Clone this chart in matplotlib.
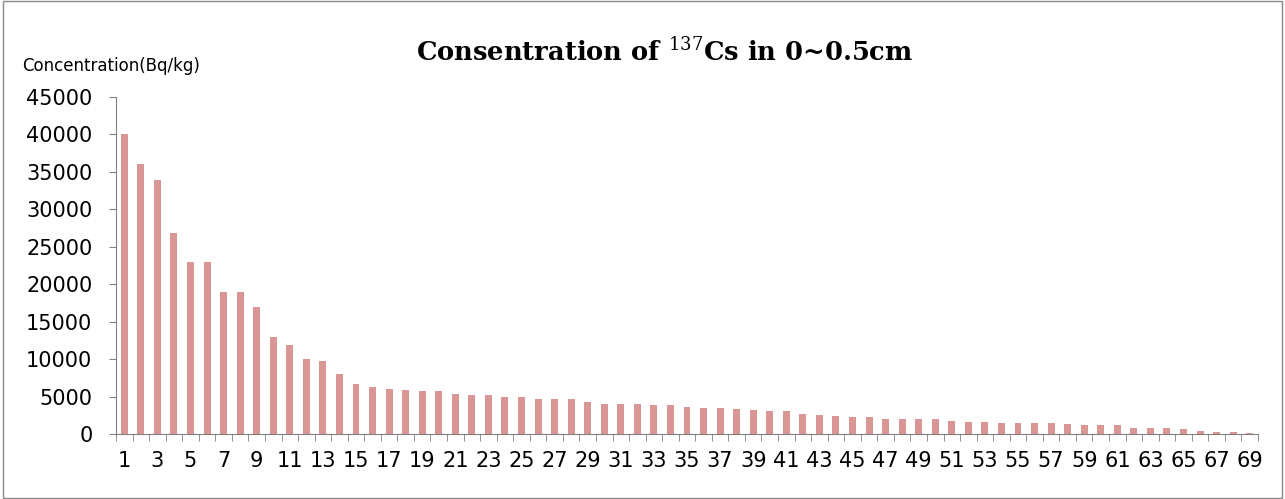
import matplotlib.pyplot as plt
import numpy as np

plt.rcParams["mathtext.fontset"] = "dejavuserif"

samples = list(range(1, 70))
conc = [40000, 36000, 33900, 26900, 22950, 22950, 18930, 18930, 16920, 12900,
        11920, 9955, 9730, 8040, 6740, 6340, 6070, 5940, 5800, 5800,
        5360, 5220, 5220, 4960, 4960, 4730, 4640, 4640, 4330,
        4060, 3970, 3970, 3880, 3880, 3660, 3530, 3480, 3350, 3260,
        3125, 3080, 2720, 2590, 2455, 2280, 2280, 2050, 2050, 2050,
        1960, 1740, 1650, 1650, 1470, 1520, 1520, 1520, 1380, 1160,
        1160, 1160, 850, 850, 760, 670, 450, 310, 310, 180]

fig = plt.figure(figsize=(12.85, 4.99), dpi=100)
ax = fig.add_axes([116/1285, 1 - 434/499, (1258 - 116)/1285, (434 - 97)/499])
fig.add_artist(plt.Rectangle((0.002, 0.003), 0.996, 0.994, transform=fig.transFigure,
                             fill=False, edgecolor="#888888", linewidth=1))

x = np.arange(len(samples))
ax.bar(x, conc, width=0.42, color="#D99694")
ax.set_xlim(-0.5, len(samples) - 0.5)
ax.set_ylim(0, 45000)
ax.set_yticks(range(0, 45001, 5000))
ax.set_xticks(x[::2])
ax.set_xticklabels([str(s) for s in samples[::2]])
ax.set_xticks(np.arange(-0.5, len(samples), 1), minor=True)
ax.tick_params(axis="x", which="major", length=0, labelsize=15, pad=12)
ax.tick_params(axis="x", which="minor", length=5, direction="out", color="#808080")
ax.tick_params(axis="y", labelsize=15, length=5, color="#808080", pad=12)
for s in ["top", "right"]:
    ax.spines[s].set_visible(False)
for s in ["left", "bottom"]:
    ax.spines[s].set_color("#808080")

fig.text(665/1285, 1 - 52/499, r"Consentration of $^{137}$Cs in 0~0.5cm",
         ha="center", va="center", fontsize=18.5, family="DejaVu Serif", weight="bold")
fig.text(22/1285, 1 - 66/499, "Concentration(Bq/kg)", ha="left", va="center", fontsize=12)

fig.savefig("out.png", dpi=100)
